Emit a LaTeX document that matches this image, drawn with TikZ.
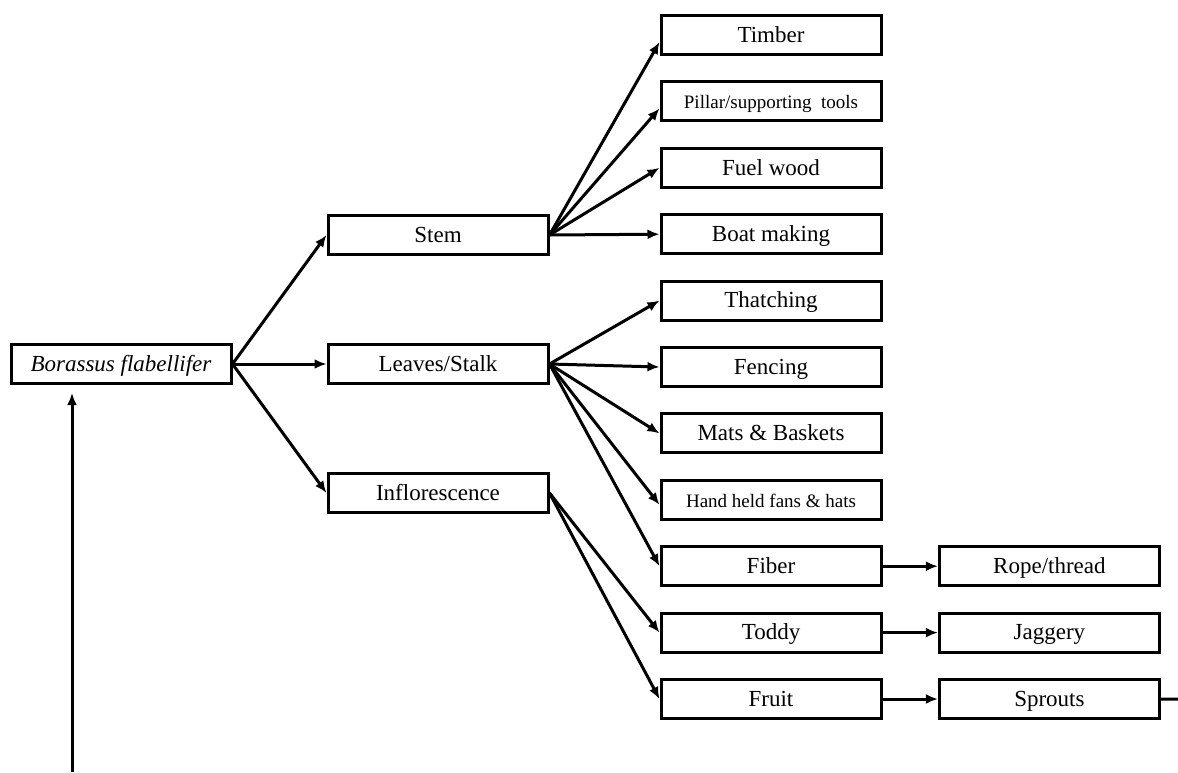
\documentclass[tikz,border=0pt]{standalone}
\usepackage{fontspec}
\setmainfont{Liberation Serif}
\usetikzlibrary{positioning}
\usetikzlibrary{arrows.meta}

\begin{document}
\begin{tikzpicture}[
    x=0.5pt, y=-0.5pt,
    box/.style={rectangle, draw, line width=1.5pt, minimum width=110pt, minimum height=19.5pt, inner sep=2pt, text height=1.75ex, text depth=0.15ex, font=\fontsize{11.5}{13}\selectfont},
    small/.style={font=\fontsize{9.5}{11}\selectfont},
    arr/.style={-{Latex[length=6pt,width=5pt]}, line width=1.5pt},
    node distance=12.2pt
]
    \useasboundingbox (0,0) rectangle (1178,772);

    % Plant and its parts
    \node[box] (bf) at (121,364) {\textit{Borassus flabellifer}};
    \node[box, right=47pt of bf] (leaves) {Leaves/Stalk};
    \node[box, above=43.5pt of leaves] (stem) {Stem};
    \node[box, below=43.5pt of leaves] (infl) {Inflorescence};

    % Uses
    \node[box] (timber) at (771,35) {Timber};
    \node[box, small, below=of timber] (pillar) {Pillar/supporting\ \ tools};
    \node[box, below=of pillar] (fuel) {Fuel wood};
    \node[box, below=of fuel] (boat) {Boat making};
    \node[box, below=of boat] (thatch) {Thatching};
    \node[box, below=of thatch] (fence) {Fencing};
    \node[box, below=of fence] (mats) {Mats \& Baskets};
    \node[box, small, below=of mats] (fans) {Hand held fans \& hats};
    \node[box, below=of fans] (fiber) {Fiber};
    \node[box, below=of fiber] (toddy) {Toddy};
    \node[box, below=of toddy] (fruit) {Fruit};

    % Products
    \node[box, right=27.7pt of fiber] (rope) {Rope/thread};
    \node[box, right=27.7pt of toddy] (jaggery) {Jaggery};
    \node[box, right=27.7pt of fruit] (sprouts) {Sprouts};

    % Loose ends of the cycle
    \coordinate (back) at (72,772);
    \coordinate (out) at (1178,699);

    % Plant to parts
    \draw[arr] (bf.east) -- (stem.west);
    \draw[arr] (bf.east) -- (leaves.west);
    \draw[arr] (bf.east) -- (infl.west);

    % Stem uses
    \draw[arr] (stem.east) -- ([yshift=-3.5pt]timber.west);
    \draw[arr] (stem.east) -- ([yshift=-3.5pt]pillar.west);
    \draw[arr] (stem.east) -- (fuel.west);
    \draw[arr] (stem.east) -- (boat.west);

    % Leaf uses
    \draw[arr] (leaves.east) -- (thatch.west);
    \draw[arr] (leaves.east) -- (fence.west);
    \draw[arr] (leaves.east) -- (mats.west);
    \draw[arr] (leaves.east) -- ([yshift=-2.5pt]fans.west);
    \draw[arr] (leaves.east) -- (fiber.west);

    % Inflorescence uses
    \draw[arr] (infl.east) -- (toddy.west);
    \draw[arr] (infl.east) -- (fruit.west);

    % Further products
    \draw[arr] (fiber.east) -- (rope.west);
    \draw[arr] (toddy.east) -- (jaggery.west);
    \draw[arr] (fruit.east) -- (sprouts.west);
    \draw[line width=1.5pt] (sprouts.east) -- (out);
    \draw[arr, shorten >=4pt] (back) -- (back |- bf.south);
\end{tikzpicture}
\end{document}
